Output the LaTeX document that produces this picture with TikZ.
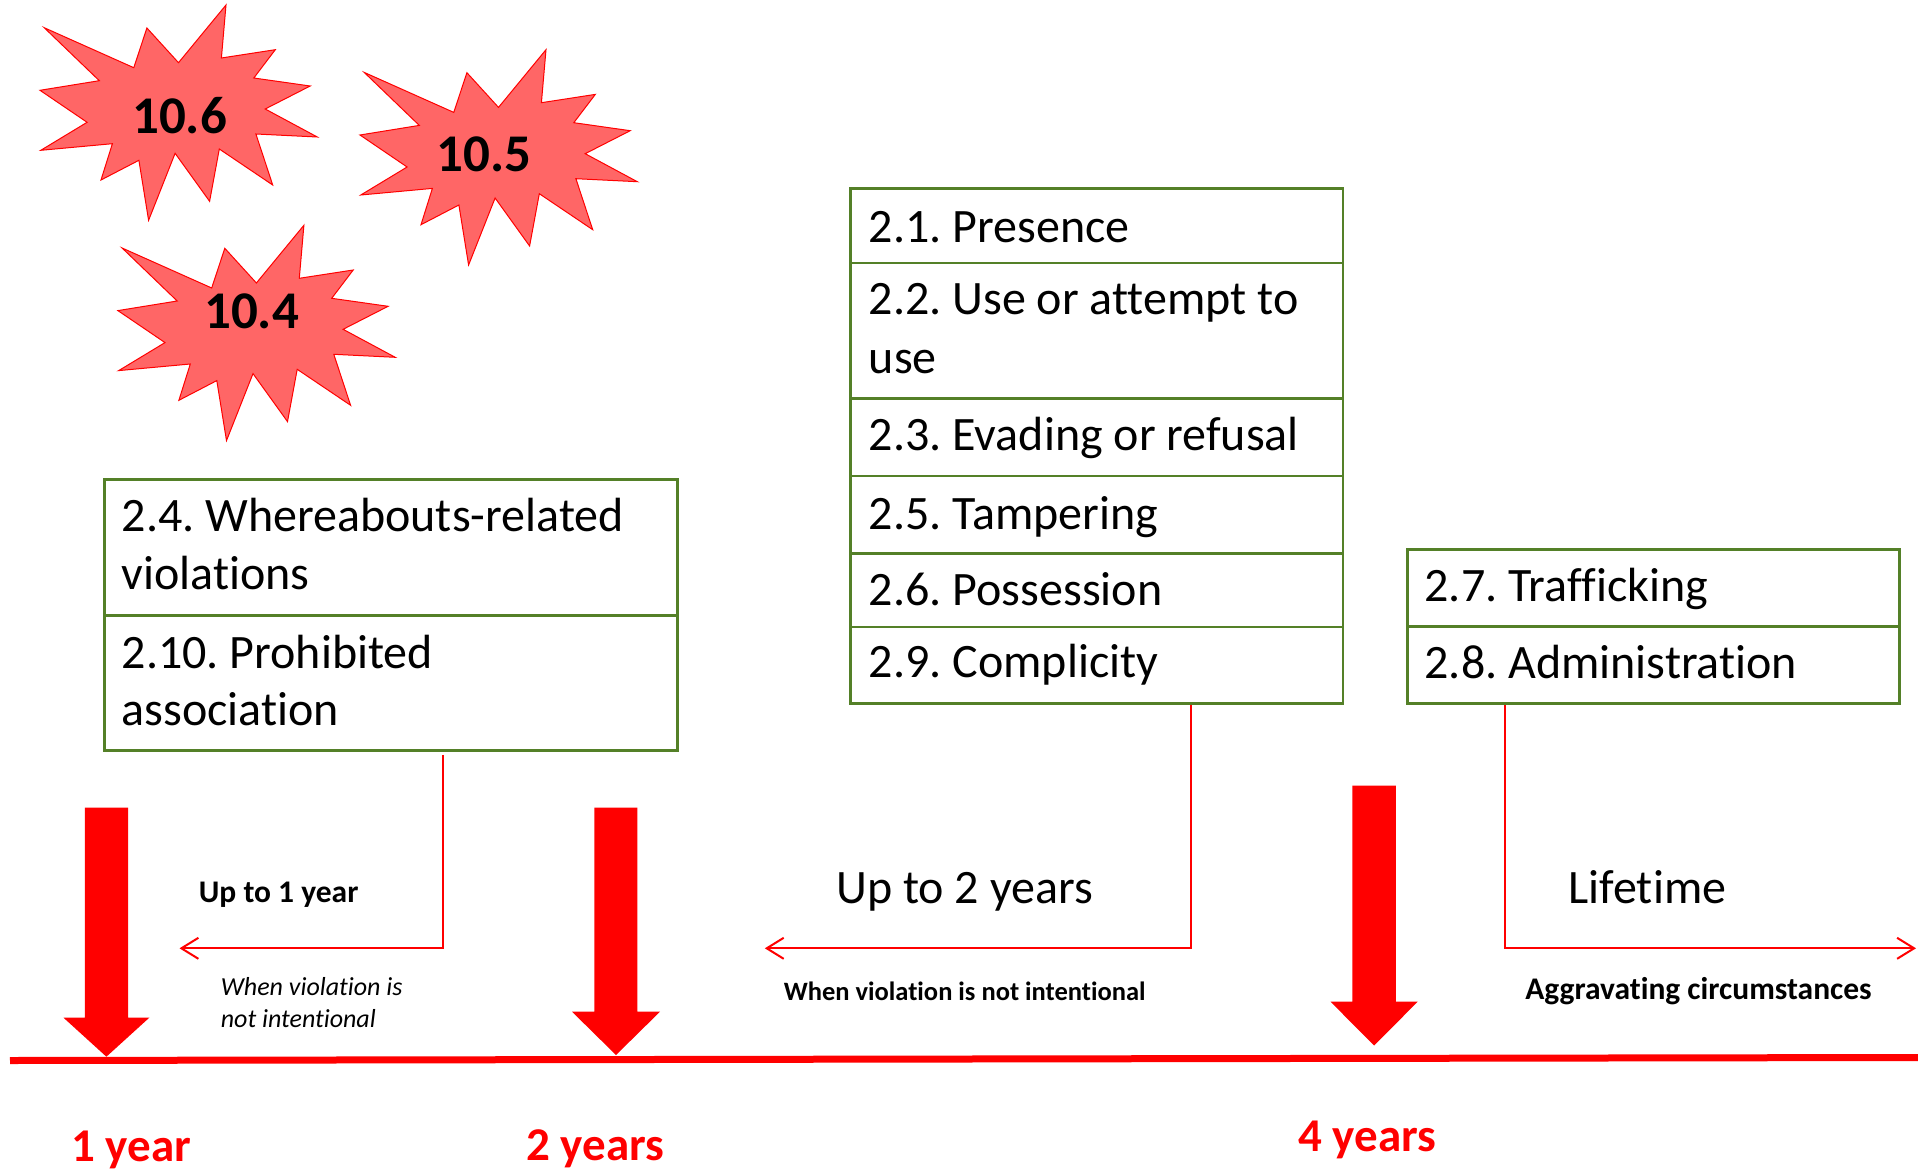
\documentclass[tikz,border=0pt]{standalone}
\usepackage{fontspec}
\setmainfont{Carlito}[Ligatures={NoCommon}]
\usetikzlibrary{arrows.meta}
\definecolor{boxgreen}{RGB}{84,128,40}
\definecolor{starfill}{RGB}{255,102,102}
\definecolor{tred}{RGB}{255,0,0}
\frenchspacing
\begin{document}
\begin{tikzpicture}[x=1pt,y=-1pt,
  cell/.style={draw=boxgreen, line width=2.5pt, anchor=north west, inner sep=0pt},
  txt/.style={anchor=base west, inner sep=0pt, font=\fontsize{48}{57}\selectfont},
  startxt/.style={anchor=base, inner sep=0pt, font=\fontsize{53}{60}\selectfont\bfseries},
  yeartxt/.style={anchor=base west, inner sep=0pt, text=tred, font=\fontsize{47}{57}\selectfont\bfseries},
  smallbold/.style={anchor=base west, inner sep=0pt, font=\fontsize{31.5}{37}\selectfont\bfseries},
  smallital/.style={anchor=base west, inner sep=0pt, font=\fontsize{26}{31}\selectfont\itshape},
  conn/.style={draw=tred, line width=2pt, -{Straight Barb[length=17pt,width=21pt]}},
  bigarrow/.style={fill=tred, draw=none},
  burst/.style={fill=starfill, draw=tred, line width=1pt, line join=miter}
]
\useasboundingbox (0,0) rectangle (1918,1169);

% starbursts
\foreach \dx/\dy in {0/0, 320/44.7, 77.9/220.3}{
  \path[burst, shift={(\dx,\dy)}]
    (44.2,27.7) -- (133.8,67.7) -- (146.9,28) -- (178.5,62.7) -- (226,5) -- (221.4,58)
    -- (275.3,49.7) -- (253.8,78) -- (310.2,86) -- (265.2,109) -- (317.3,137) -- (255.9,134)
    -- (272.7,185) -- (219.3,149) -- (209.6,201.3) -- (175.1,153.3) -- (148.6,220.3)
    -- (138.9,160.3) -- (101,180) -- (112.4,143.7) -- (40.8,150.3) -- (87.1,122.3)
    -- (40,90.3) -- (99.3,80.7) -- cycle;
}
\node[startxt] (s106) at (179.5,133.3) {10.6};
\node[startxt] (s105) at (483.8,171.7) {10.5};
\node[startxt] (s104) at (251.5,328.3) {10.4};

% left box
\node[cell, minimum width=573pt, minimum height=136pt] (cL1) at (103,478.3) {};
\node[cell, minimum width=573pt, minimum height=135pt] (cL2) at (103,614.3) {};
\node[txt] (tL1a) at (121.5,531.7) {2.4. Whereabouts-related};
\node[txt] (tL1b) at (121.5,589.5) {violations};
\node[txt] (tL2a) at (121.5,668.3) {2.10. Prohibited};
\node[txt] (tL2b) at (121.5,725.5) {association};

% middle box
\node[cell, minimum width=492.7pt, minimum height=74.7pt] (cM1) at (849,187.2) {};
\node[cell, minimum width=492.7pt, minimum height=135.5pt] (cM2) at (849,261.9) {};
\node[cell, minimum width=492.7pt, minimum height=77.5pt] (cM3) at (849,397.4) {};
\node[cell, minimum width=492.7pt, minimum height=77.4pt] (cM4) at (849,474.9) {};
\node[cell, minimum width=492.7pt, minimum height=73.4pt] (cM5) at (849,552.3) {};
\node[cell, minimum width=492.7pt, minimum height=76.3pt] (cM6) at (849,625.7) {};
\node[txt] (tM1) at (868.7,242.3) {2.1. Presence};
\node[txt] (tM2a) at (868.7,314.6) {2.2. Use or attempt to};
\node[txt] (tM2b) at (868.7,373.2) {use};
\node[txt] (tM3) at (868.7,450.6) {2.3. Evading or refusal};
\node[txt] (tM4) at (868.7,529.9) {2.5. Tampering};
\node[txt] (tM5) at (868.7,605.6) {2.6. Possession};
\node[txt] (tM6) at (868.7,677.9) {2.9. Complicity};

% right box
\node[cell, minimum width=492pt, minimum height=76.7pt] (cR1) at (1406,548.3) {};
\node[cell, minimum width=492pt, minimum height=77.3pt] (cR2) at (1406,625) {};
\node[txt] (tR1) at (1424.4,601.7) {2.7. Trafficking};
\node[txt] (tR2) at (1424.4,678.3) {2.8. Administration};

% connectors
\coordinate (vL) at (443,0);
\coordinate (vM) at (1190.8,0);
\coordinate (vR) at (1504.8,0);
\coordinate (tipL) at (179.5,948.3);
\coordinate (tipM) at (764.8,948.3);
\coordinate (tipR) at (1916,948.3);
\draw[conn] ([yshift=-3pt]cL2.south -| vL) |- (tipL);
\draw[conn] (cM6.south -| vM) |- (tipM);
\draw[conn] (cR2.south -| vR) |- (tipR);

% timeline
\draw[line width=7pt, tred] (10,1060.5) -- (1918,1057.5);

% big arrows
\path[bigarrow] (84.8,807.7) -- (128,807.7) -- (128,1017.7) -- (149.3,1017.7) -- (106.4,1056.7) -- (63.5,1017.7) -- (84.8,1017.7) -- cycle;
\path[bigarrow] (594.3,807.7) -- (637.4,807.7) -- (637.4,1011.7) -- (660,1011.7) -- (616,1055) -- (572,1011.7) -- (594.3,1011.7) -- cycle;
\path[bigarrow] (1352.3,785.7) -- (1395.9,785.7) -- (1395.9,1001.7) -- (1417.7,1001.7) -- (1374.1,1045.5) -- (1330.5,1001.7) -- (1352.3,1001.7) -- cycle;

% labels
\node[smallbold] (up1) at (198.7,902.7) {Up to 1 year};
\node[smallital] (ni1a) at (220.6,995.7) {When violation is};
\node[smallital] (ni1b) at (220.6,1027.3) {not intentional};
\node[txt] (up2) at (836,903.3) {Up to 2 years};
\node[anchor=base west, inner sep=0pt, font=\fontsize{26.5}{32}\selectfont\bfseries] (ni2) at (783.6,1000) {When violation is not intentional};
\node[txt] (life) at (1568.5,903.3) {Lifetime};
\node[smallbold] (aggr) at (1525.1,999) {Aggravating circumstances};
\node[yeartxt] (y1) at (71,1161.7) {1 year};
\node[yeartxt] (y2) at (526,1160) {2 years};
\node[yeartxt] (y4) at (1298,1151.7) {4 years};
\end{tikzpicture}
\end{document}
